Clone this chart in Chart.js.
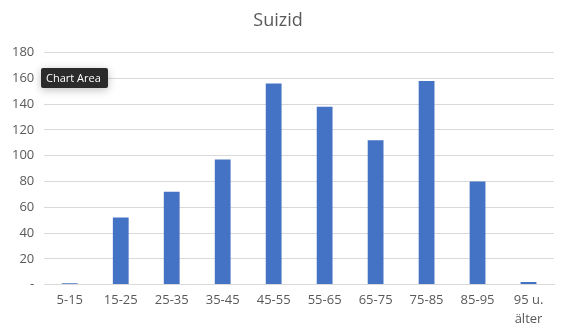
<!DOCTYPE html>
<html>
<head>
<meta charset="utf-8">
<script src="https://cdn.jsdelivr.net/npm/chart.js@4"></script>
<style>
  body { margin: 0; background: #fff; }
  canvas { display: block; }
</style>
</head>
<body>
<canvas id="myChart1" width="562" height="335"></canvas>
<script>
  const age_groups = ['5-15', '15-25', '25-35', '35-45', '45-55', '55-65', '65-75', '75-85', '85-95', ['95 u.', 'älter']];
  const suicides = [1, 52, 72, 97, 156, 138, 112, 158, 80, 2];
  const y_max = 180;
  const y_step = 20;

  // little dark "Chart Area" hover label from the screenshot
  const hoverLabel = {
    id: 'hoverLabel',
    afterDraw(chart) {
      const c = chart.ctx;
      c.save();
      c.shadowColor = 'rgba(0,0,0,0.25)';
      c.shadowBlur = 8;
      c.shadowOffsetY = 2;
      c.fillStyle = '#2b2b2b';
      c.beginPath();
      c.roundRect(41, 68, 67, 20, 2);
      c.fill();
      c.shadowColor = 'transparent';
      c.fillStyle = '#ffffff';
      c.font = '11px "Open Sans", sans-serif';
      c.textBaseline = 'middle';
      c.fillText('Chart Area', 46, 78.5);
      c.restore();
    }
  };

  const ctx = document.getElementById('myChart1').getContext('2d');
  const myChart = new Chart(ctx, {
    type: 'bar',
    data: {
      labels: age_groups,
      datasets: [
        {
          label: 'Suizid',
          data: suicides,
          backgroundColor: '#4472c4',
          borderWidth: 0,
          barPercentage: 0.31,
          categoryPercentage: 1
        }
      ]
    },
    options: {
      responsive: false,
      animation: false,
      layout: { padding: { left: 2, right: 8, top: 5, bottom: 0 } },
      plugins: {
        legend: { display: false },
        tooltip: { enabled: false },
        title: {
          display: true,
          text: 'Suizid',
          color: '#595959',
          font: { family: '"Open Sans", sans-serif', size: 18, weight: 'normal' },
          padding: { top: 5, bottom: 21 }
        }
      },
      scales: {
        x: {
          grid: { display: false, drawTicks: false },
          border: { color: '#d9d9d9', width: 1 },
          ticks: {
            color: '#595959',
            font: { family: '"Open Sans", sans-serif', size: 13, lineHeight: 1.4 },
            padding: 7,
            maxRotation: 0,
            autoSkip: false
          }
        },
        y: {
          min: 0,
          max: y_max,
          grid: { color: '#d9d9d9', drawTicks: false },
          border: { display: false },
          ticks: {
            stepSize: y_step,
            color: '#595959',
            font: { family: '"Open Sans", sans-serif', size: 13 },
            padding: 10,
            callback: v => v === 0 ? '-' : v
          }
        }
      }
    },
    plugins: [hoverLabel]
  });
</script>
</body>
</html>
